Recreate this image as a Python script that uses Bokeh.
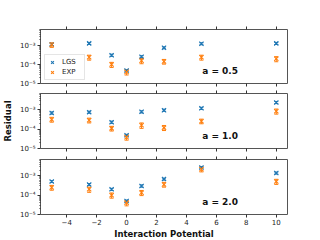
from bokeh.plotting import figure
from bokeh.models import (ColumnDataSource, FixedTicker, LinearAxis, Range1d, Legend,
                          LegendItem, Label, Whisker, TeeHead, CustomJSTickFormatter,
                          CustomLabelingPolicy)
from bokeh.layouts import column
from bokeh.embed import file_html
from bokeh.resources import INLINE

# ---------------- data ----------------
x_vals = [-5, -2.5, -1, 0, 1, 2.5, 5, 10]

lgs_05 = [1.15e-3, 1.3e-3, 3.1e-4, 4.8e-5, 2.6e-4, 7.6e-4, 1.25e-3, 1.3e-3]
lgs_05_err = [1.5e-4, 1.6e-4, 4e-5, 6e-6, 3e-5, 9e-5, 1.5e-4, 1.6e-4]
exp_05 = [1.1e-3, 2.4e-4, 1.0e-4, 4.0e-5, 1.6e-4, 1.45e-4, 2.4e-4, 2.0e-4]
exp_05_err = [3e-4, 7e-5, 3e-5, 1.2e-5, 5e-5, 4e-5, 7e-5, 6e-5]

lgs_10 = [6.9e-4, 7.6e-4, 2.3e-4, 4.8e-5, 7.9e-4, 9.6e-4, 1.2e-3, 2.4e-3]
lgs_10_err = [9e-5, 9e-5, 3e-5, 6e-6, 1e-4, 1.2e-4, 1.5e-4, 3e-4]
exp_10 = [3.2e-4, 2.9e-4, 1.1e-4, 3.8e-5, 1.6e-4, 1.2e-4, 2.6e-4, 8.5e-4]
exp_10_err = [9e-5, 8e-5, 3e-5, 1.1e-5, 5e-5, 3.5e-5, 7e-5, 2.5e-4]

lgs_20 = [5.1e-4, 3.6e-4, 2.0e-4, 5.0e-5, 3.0e-4, 6.8e-4, 2.7e-3, 1.4e-3]
lgs_20_err = [6e-5, 4e-5, 2.5e-5, 6e-6, 4e-5, 8e-5, 3.3e-4, 1.7e-4]
exp_20 = [2.5e-4, 2.0e-4, 1.0e-4, 4.0e-5, 1.35e-4, 3.6e-4, 2.2e-3, 5.1e-4]
exp_20_err = [7e-5, 6e-5, 3e-5, 1.2e-5, 4e-5, 1e-4, 6e-4, 1.5e-4]

panel_labels = ["a = 0.5", "a = 1.0", "a = 2.0"]
series_names = ["LGS", "EXP"]
x_ticks = [-4, -2, 0, 2, 4, 6, 8, 10]
y_ticks = [1e-5, 1e-4, 1e-3]
y_minor = [2e-5, 3e-5, 4e-5, 5e-5, 6e-5, 7e-5, 8e-5, 9e-5,
           2e-4, 3e-4, 4e-4, 5e-4, 6e-4, 7e-4, 8e-4, 9e-4,
           2e-3, 3e-3, 4e-3, 5e-3, 6e-3, 7e-3]

panels = [
    (lgs_05, lgs_05_err, exp_05, exp_05_err),
    (lgs_10, lgs_10_err, exp_10, exp_10_err),
    (lgs_20, lgs_20_err, exp_20, exp_20_err),
]

FONT = "DejaVu Sans"
C_LGS = "#1f77b4"
C_EXP = "#ff7f0e"
TICK_C = "#333333"

log_fmt = CustomJSTickFormatter(code="""
const e = Math.round(Math.log10(tick));
const sup = {"-": "\u207b", "0": "\u2070", "1": "\u00b9", "2": "\u00b2", "3": "\u00b3",
             "4": "\u2074", "5": "\u2075", "6": "\u2076", "7": "\u2077", "8": "\u2078", "9": "\u2079"};
return "10" + String(e).split("").map(c => sup[c]).join("");
""")

no_labels = CustomLabelingPolicy(code="return []")

xr = Range1d(-5.75, 10.75)
figs = []
borders = [(29, 5), (5, 5), (6, 24)]
frame_h = [54, 55, 55]

for i, (lgs, lgs_err, exp, exp_err) in enumerate(panels):
    last = i == 2
    p = figure(frame_width=247, frame_height=frame_h[i],
               x_range=xr, y_range=Range1d(1e-5, 7e-3), y_axis_type="log",
               output_backend="svg", toolbar_location=None,
               min_border_left=34, min_border_right=12,
               min_border_top=borders[i][0], min_border_bottom=borders[i][1])
    p.xgrid.visible = False
    p.ygrid.visible = False
    p.outline_line_color = "#555555"
    p.outline_line_width = 1
    p.background_fill_color = "white"
    p.border_fill_color = "white"

    # x axes (bottom, plus ticks on top)
    xa = p.xaxis[0]
    xa.ticker = FixedTicker(ticks=x_ticks)
    top = LinearAxis(ticker=FixedTicker(ticks=x_ticks))
    p.add_layout(top, "above")
    for ax in (xa, top):
        ax.axis_line_color = None
        ax.major_tick_line_color = TICK_C
        ax.major_tick_out = 3
        ax.major_tick_in = 0
        ax.minor_tick_line_color = None
        ax.major_label_text_font = FONT
        ax.major_label_text_font_size = "7px"
        ax.major_label_text_color = "#222222"
        ax.major_label_standoff = 1
    hidden = [top] if last else [top, xa]
    for ax in hidden:
        ax.major_label_text_font_size = "0px"
        ax.major_label_standoff = 0
        ax.major_label_policy = no_labels
    if last:
        xa.axis_label = "Interaction Potential"
        xa.axis_label_text_font = FONT
        xa.axis_label_text_font_size = "8.5px"
        xa.axis_label_text_font_style = "bold"
        xa.axis_label_text_color = "#111111"
        xa.axis_label_standoff = 1

    ya = p.yaxis[0]
    ya.ticker = FixedTicker(ticks=y_ticks, minor_ticks=y_minor)
    ya.formatter = log_fmt
    ya.axis_line_color = None
    ya.major_tick_line_color = TICK_C
    ya.major_tick_out = 3
    ya.major_tick_in = 0
    ya.minor_tick_line_color = TICK_C
    ya.minor_tick_out = 1
    ya.minor_tick_in = 0
    ya.major_label_text_font = FONT
    ya.major_label_text_font_size = "7px"
    ya.major_label_text_color = "#222222"
    ya.major_label_standoff = 2
    if i == 1:
        ya.axis_label = "Residual"
        ya.axis_label_text_font = FONT
        ya.axis_label_text_font_size = "8.5px"
        ya.axis_label_text_font_style = "bold"
        ya.axis_label_text_color = "#111111"
        ya.axis_label_standoff = 4

    renderers = []
    for vals, errs, col in ((lgs, lgs_err, C_LGS), (exp, exp_err, C_EXP)):
        src = ColumnDataSource(dict(
            x=x_vals, y=vals,
            upper=[v + e for v, e in zip(vals, errs)],
            lower=[v - e for v, e in zip(vals, errs)]))
        w = Whisker(base="x", upper="upper", lower="lower", source=src,
                    line_color=col, line_width=1,
                    upper_head=TeeHead(size=4, line_color=col, line_width=1),
                    lower_head=TeeHead(size=4, line_color=col, line_width=1))
        p.add_layout(w)
        r = p.scatter("x", "y", source=src, marker="x", size=6,
                      line_color=col, line_width=1.1)
        renderers.append(r)

    p.add_layout(Label(x=5.05, y=4.6e-5, text=panel_labels[i],
                       text_font=FONT, text_font_size="9px", text_font_style="bold",
                       text_baseline="middle", text_align="left", text_color="#111111"))

    if i == 0:
        legend = Legend(items=[LegendItem(label=series_names[0], renderers=[renderers[0]]),
                               LegendItem(label=series_names[1], renderers=[renderers[1]])],
                        location=(4, 3))
        legend.label_text_font = FONT
        legend.label_text_font_size = "7px"
        legend.label_text_color = "#222222"
        legend.glyph_width = 10
        legend.glyph_height = 10
        legend.label_height = 10
        legend.label_standoff = 5
        legend.padding = 2
        legend.spacing = 0
        legend.margin = 0
        legend.border_line_color = "#cccccc"
        legend.border_line_width = 1
        legend.background_fill_alpha = 0.8
        p.add_layout(legend)

    figs.append(p)

layout = column(*figs, spacing=0)
open("out.html", "w").write(file_html(layout, INLINE))
